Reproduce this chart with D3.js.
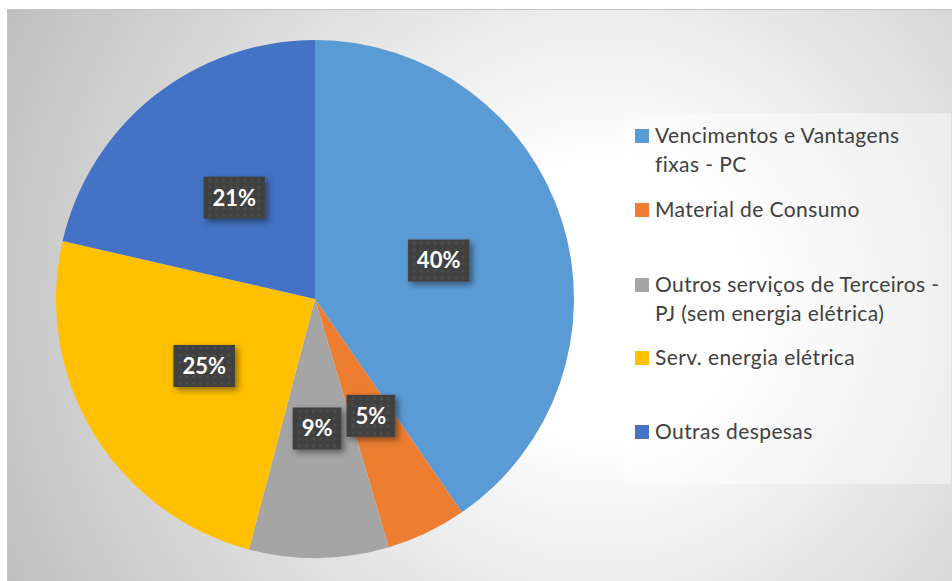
<html>
<head>
<script src="https://d3js.org/d3.v7.min.js"></script>
<style>
  body { margin:0; background:#fff; }
  text { font-family: Lato, "Open Sans", sans-serif; font-variant-ligatures: none; }
</style>
</head>
<body>
<svg id="chart" width="952" height="581"></svg>
<script>
// data
const categories = ["Vencimentos e Vantagens fixas - PC", "Material de Consumo",
  "Outros serviços de Terceiros - PJ (sem energia elétrica)", "Serv. energia elétrica", "Outras despesas"];
const legendLines = [["Vencimentos e Vantagens", "fixas - PC"], ["Material de Consumo"],
  ["Outros serviços de Terceiros -", "PJ (sem energia elétrica)"], ["Serv. energia elétrica"], ["Outras despesas"]];
const values = [40.4, 5.0, 8.7, 24.5, 21.4];
const colors = ["#5B9BD5", "#ED7D31", "#A5A5A5", "#FFC000", "#4472C4"];

const svg = d3.select("#chart");
const defs = svg.append("defs");

// background radial gradient
const bg = defs.append("radialGradient").attr("id", "bg")
  .attr("gradientUnits", "userSpaceOnUse")
  .attr("cx", 600).attr("cy", 300).attr("r", 660);
bg.append("stop").attr("offset", 0.2).attr("stop-color", "#ffffff");
bg.append("stop").attr("offset", 1).attr("stop-color", "#bfbfbf");

// dotted pattern for the label boxes
const pat = defs.append("pattern").attr("id", "dots")
  .attr("patternUnits", "userSpaceOnUse").attr("width", 7).attr("height", 7);
pat.append("rect").attr("width", 7).attr("height", 7).attr("fill", "#404040");
pat.append("circle").attr("cx", 3.5).attr("cy", 3.5).attr("r", 1.6).attr("fill", "#4c4c4c");

const shadow = defs.append("filter").attr("id", "shadow")
  .attr("x", "-30%").attr("y", "-30%").attr("width", "160%").attr("height", "160%");
shadow.append("feDropShadow").attr("dx", 3).attr("dy", 3).attr("stdDeviation", 3)
  .attr("flood-color", "#000").attr("flood-opacity", 0.45);

svg.append("rect").attr("x", 7.5).attr("y", 9.5).attr("width", 950).attr("height", 580)
  .attr("fill", "url(#bg)").attr("stroke", "#c4c4c4");

// pie
const cx = 315, cy = 299, r = 259;
const pie = d3.pie().sort(null).value(d => d);
const arcs = pie(values);
const arc = d3.arc().innerRadius(0).outerRadius(r);
const total = d3.sum(values);

const g = svg.append("g").attr("transform", `translate(${cx},${cy})`);
g.selectAll("path.slice").data(arcs).join("path")
  .attr("class", "slice")
  .attr("d", arc)
  .attr("fill", (d, i) => colors[i]);

// data labels
const lab = g.selectAll("g.lab").data(arcs).join("g")
  .attr("class", "lab")
  .attr("transform", d => `translate(${arc.centroid(d)})`);
lab.each(function(d) {
  const sel = d3.select(this);
  const box = sel.append("rect");
  const t = sel.append("text")
    .attr("text-anchor", "middle").attr("dy", "0.36em")
    .attr("fill", "#fff").attr("font-weight", "bold").attr("font-size", 22)
    .text(Math.round(d.value / total * 100) + "%");
  const w = t.node().getComputedTextLength() + 18;
  box.attr("x", -w / 2).attr("y", -21).attr("width", w).attr("height", 42)
    .attr("fill", "url(#dots)").attr("filter", "url(#shadow)");
});

// legend
const legend = svg.append("g");
legend.append("rect").attr("x", 623).attr("y", 113).attr("width", 328).attr("height", 371)
  .attr("fill", "#ffffff").attr("opacity", 0.42);
const itemY = [136, 210, 285, 358, 432];
const item = legend.selectAll("g.item").data(legendLines).join("g")
  .attr("class", "item")
  .attr("transform", (d, i) => `translate(635,${itemY[i]})`);
item.append("rect").attr("x", 0).attr("y", -7).attr("width", 14).attr("height", 14)
  .attr("fill", (d, i) => colors[i]);
item.each(function(lines) {
  const t = d3.select(this).append("text").attr("x", 20).attr("y", 7)
    .attr("font-size", 21).attr("letter-spacing", 0.4).attr("fill", "#404040");
  lines.forEach((s, k) => t.append("tspan").attr("x", 20).attr("dy", k ? 29 : 0).text(s));
});
</script>
</body>
</html>
